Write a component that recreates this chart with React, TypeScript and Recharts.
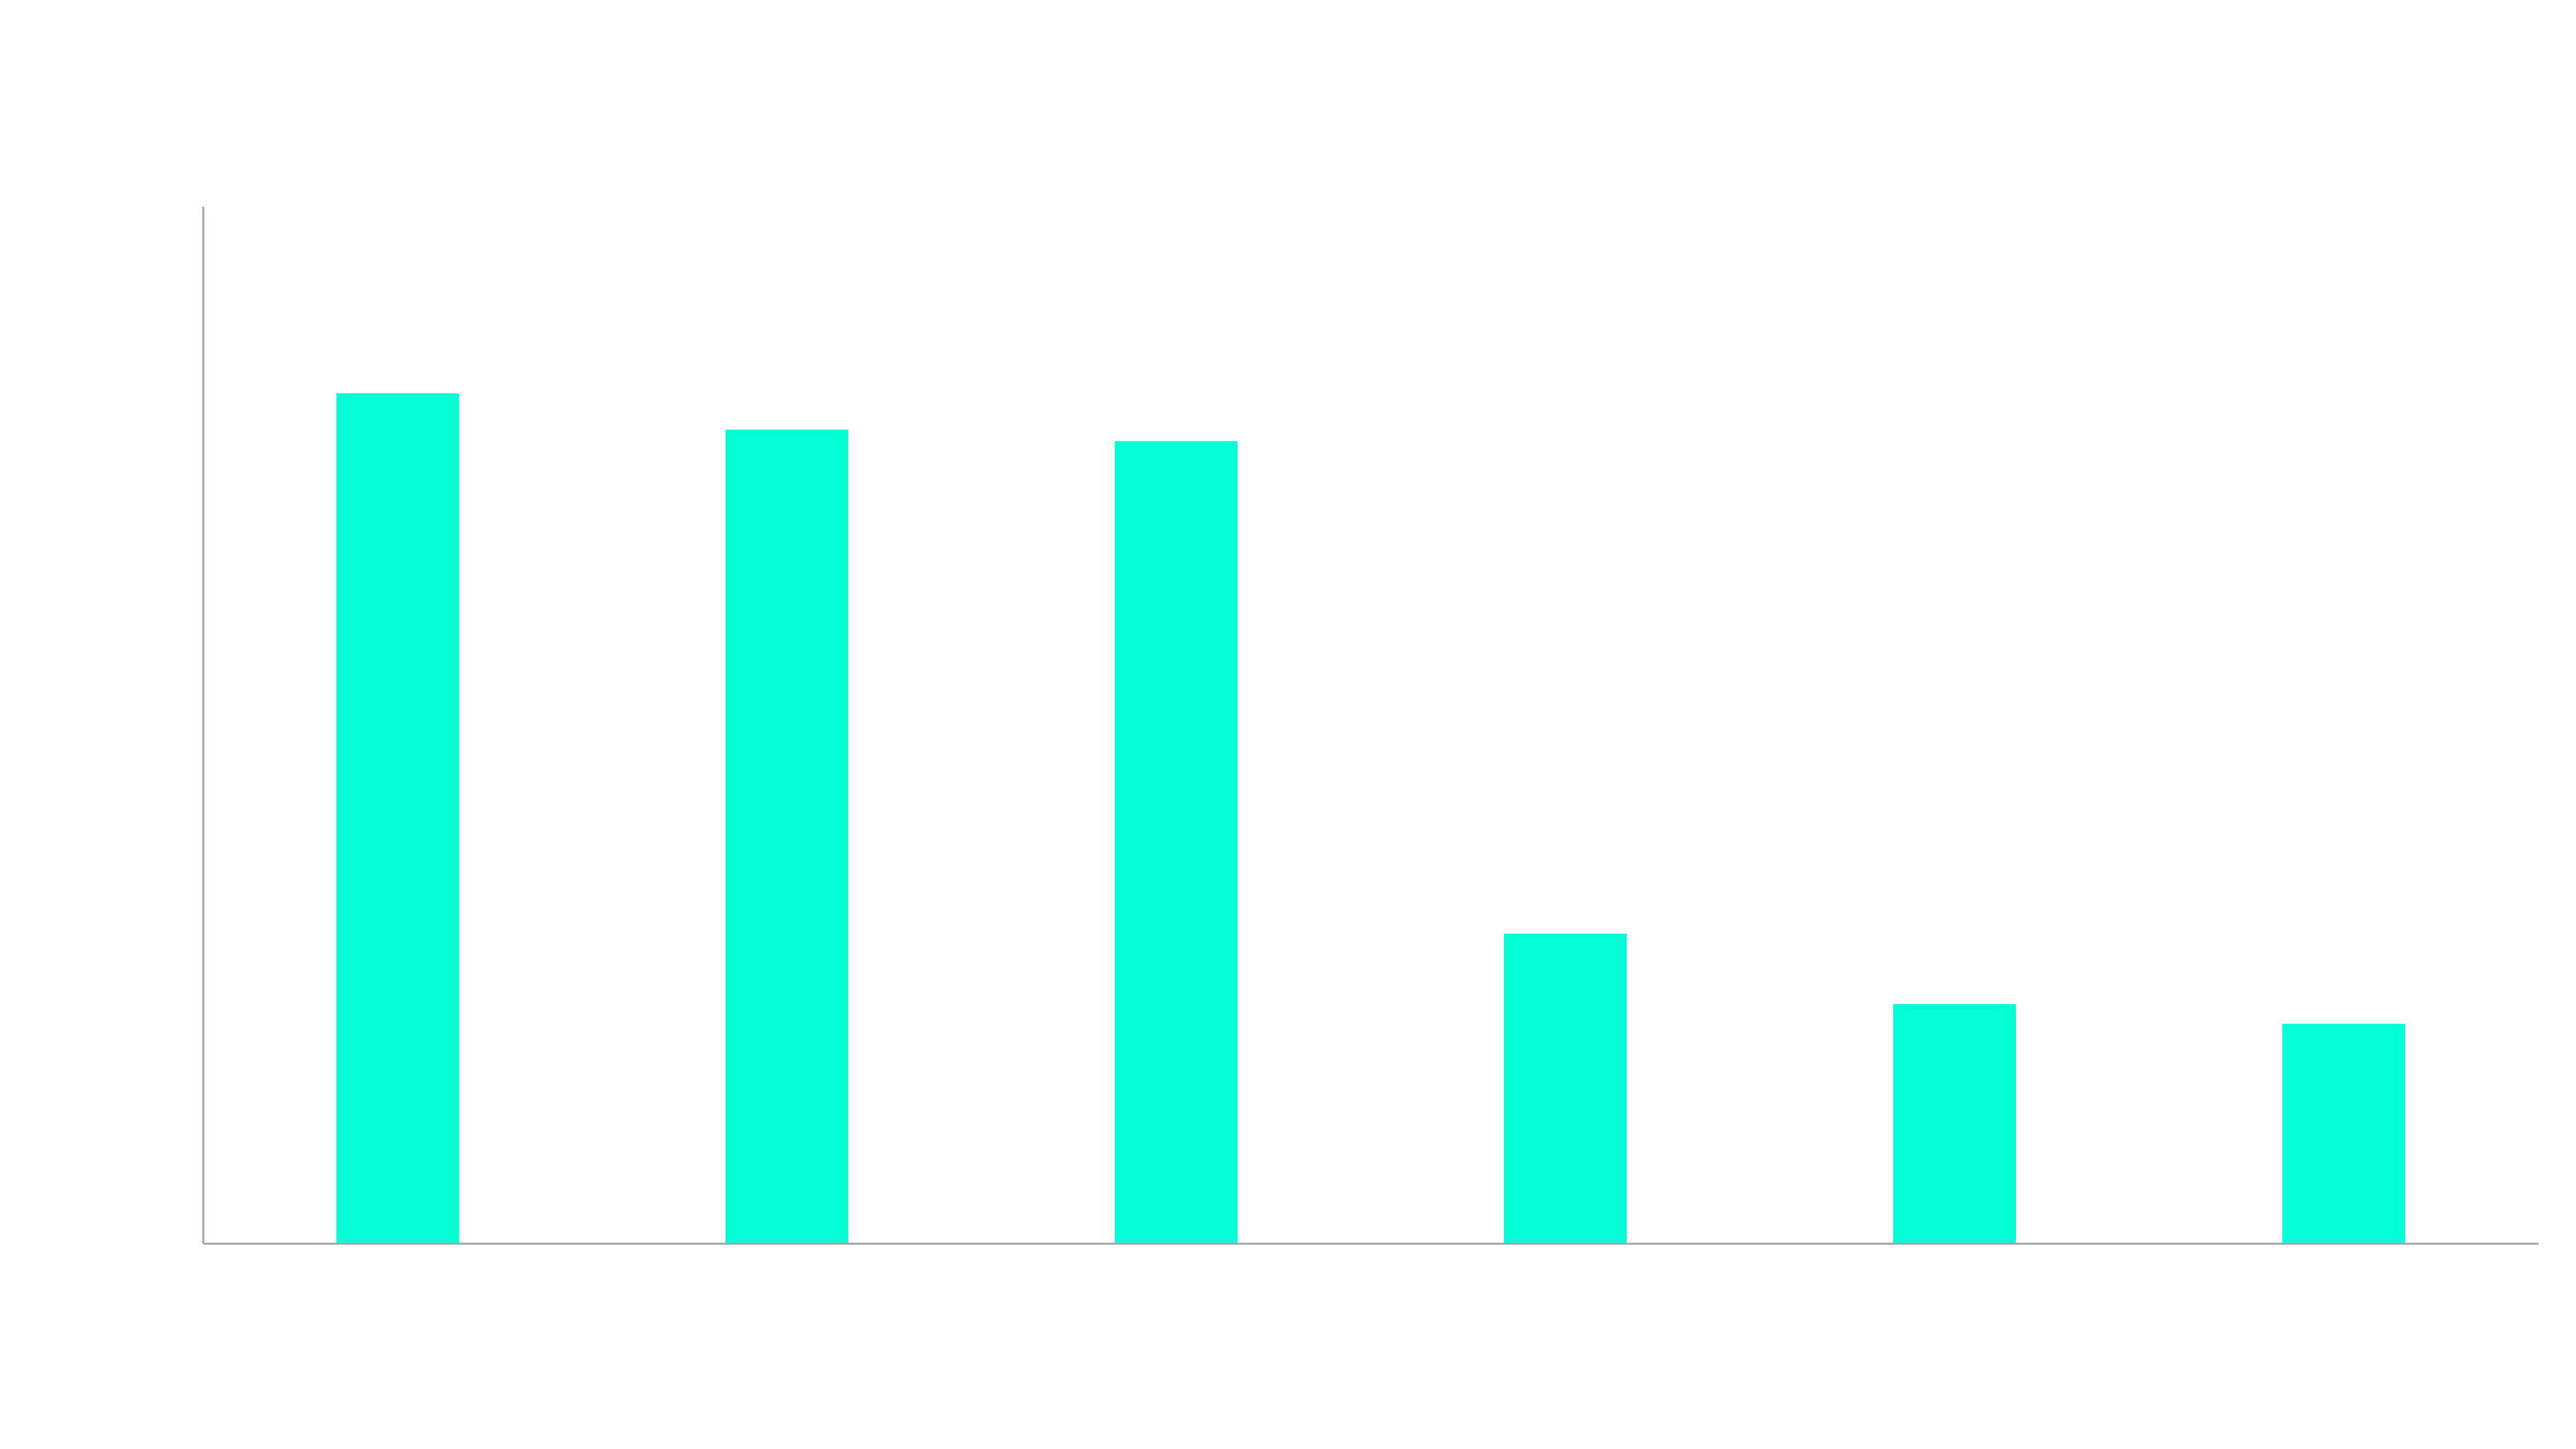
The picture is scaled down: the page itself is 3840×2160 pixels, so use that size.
import React from "react";
import { BarChart, Bar, XAxis, YAxis } from "recharts";

const categories = ["A", "B", "C", "D", "E", "F"];
const values = [82.0, 78.5, 77.4, 29.9, 23.1, 21.2];
const yDomain: [number, number] = [0, 100];

const data = categories.map((c, i) => ({ name: c, value: values[i] }));

export default function App() {
  return (
    <div style={{ width: 3824, height: 2144 }}>
      <BarChart
        width={3824}
        height={2144}
        data={data}
        margin={{ top: 300, right: 48, bottom: 297, left: 294 }}
        barCategoryGap="34.2%"
      >
        <XAxis
          dataKey="name"
          tick={false}
          tickLine={false}
          height={1}
          axisLine={{ stroke: "#a6a6a6", strokeWidth: 3 }}
        />
        <YAxis
          domain={yDomain}
          tick={false}
          tickLine={false}
          width={1}
          axisLine={{ stroke: "#a6a6a6", strokeWidth: 3 }}
        />
        <Bar dataKey="value" fill="#00ffd5" isAnimationActive={false} />
      </BarChart>
    </div>
  );
}
